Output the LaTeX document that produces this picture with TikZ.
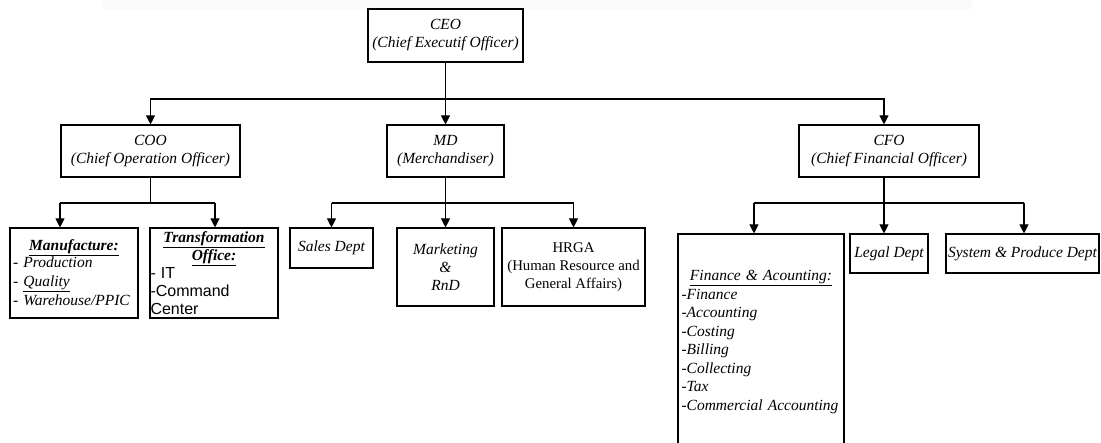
\documentclass[tikz,border=0pt]{standalone}
\usepackage{fontspec}
\setmainfont{Liberation Serif}
\newfontfamily\arialf{Liberation Sans}
\usetikzlibrary{arrows.meta}
\begin{document}
\begin{tikzpicture}[x=1pt,y=-1pt,
  box/.style={draw, line width=1.1pt, inner sep=0pt, align=center,
    font=\fontsize{15.5}{18}\selectfont\itshape},
  ln/.style={line width=1.1pt},
  conn/.style={line width=1.1pt, -{Triangle[length=9pt,width=9pt]}},
  sans/.style={},
]
\useasboundingbox (0,0) rectangle (1101,443);
\fill[black!2] (102,0) rectangle (972,9);

% level 0
\node[box, minimum width=155, minimum height=53] (ceo) at (445.5,35.5) {CEO\\(Chief Executif Officer)};
% level 1
\node[box, minimum width=179, minimum height=52] (coo) at (150.5,151) {COO\\(Chief Operation Officer)};
\node[box, minimum width=117, minimum height=52] (md) at (445.5,151) {MD\\(Merchandiser)};
\node[box, minimum width=180, minimum height=52] (cfo) at (889,151) {CFO\\(Chief Financial Officer)};
% level 2 - COO
\node[box, minimum width=128, minimum height=90, text width=122, align=left] (man) at (74,273)
  {\makebox[122pt]{\bfseries\underline{Manufacture:}}\\[-1pt]- Production\\[1pt]- \underline{Quality}\\[1pt]- Warehouse/PPIC};
\node[box, minimum width=128, minimum height=90, text width=127, align=left] (tro) at (214,273)
  {\makebox[127pt]{\bfseries\underline{Transformation}}\\\makebox[127pt]{\bfseries\underline{Office:}}\\
   {\arialf\upshape\fontsize{16}{18}\selectfont - IT}\\{\arialf\upshape\fontsize{16}{18}\selectfont -Command}\\{\arialf\upshape\fontsize{16}{18}\selectfont Center}};
% level 2 - MD
\node[box, minimum width=83, minimum height=40] (sales) at (331.5,248) {Sales Dept};
\node[box, minimum width=97, minimum height=78] (mkt) at (445.5,267) {Marketing\\\&\\RnD};
\node[box, minimum width=143, minimum height=78, font=\fontsize{14.8}{18}\selectfont\upshape] (hrga) at (573.5,267) {HRGA\\(Human Resource and\\General Affairs)};
% level 2 - CFO
\node[box, minimum width=166, minimum height=216, text width=159, align=left,
  font=\fontsize{15.5}{18.5}\selectfont\itshape] (fin) at (761,342)
  {\makebox[159pt]{\underline{Finance \& Acounting:}}\\-Finance\\-Accounting\\-Costing\\-Billing\\-Collecting\\-Tax\\-Commercial Accounting};
\node[box, minimum width=78, minimum height=39] (legal) at (889,253.5) {Legal Dept};
\node[box, minimum width=153, minimum height=39] (sys) at (1022.5,253.5) {System \& Produce Dept};

% connectors CEO
\coordinate (j0) at (445.5,99);
\draw[ln] (ceo.south) -- (j0);
\draw[conn] (j0) -| (coo.north);
\draw[conn] (j0) -- (md.north);
\coordinate (cf) at (884,99);
\draw[conn] (j0) -- (cf) -- (cf |- cfo.north);

% COO children
\coordinate (c0) at (150.5,203);
\coordinate (c1) at (60,203);
\coordinate (c2) at (215,203);
\draw[ln] (coo.south) -- (c0);
\draw[ln] (c1) -- (c2);
\draw[conn] (c1) -- (c1 |- man.north);
\draw[conn] (c2) -- (c2 |- tro.north);

% MD children
\coordinate (m0) at (445.5,203);
\coordinate (m1) at (331.5,203);
\coordinate (m3) at (573.5,203);
\draw[ln] (md.south) -- (m0);
\draw[ln] (m1) -- (m3);
\draw[conn] (m1) -- (sales.north);
\draw[conn] (m0) -- (mkt.north);
\draw[conn] (m3) -- (hrga.north);

% CFO children
\coordinate (f0) at (884,203);
\coordinate (f1) at (754,203);
\coordinate (f3) at (1024,203);
\draw[ln] (cfo.south -| f0) -- (f0);
\draw[ln] (f1) -- (f3);
\draw[conn] (f1) -- (f1 |- fin.north);
\draw[conn] (f0) -- (f0 |- legal.north);
\draw[conn] (f3) -- (f3 |- sys.north);
\end{tikzpicture}
\end{document}
